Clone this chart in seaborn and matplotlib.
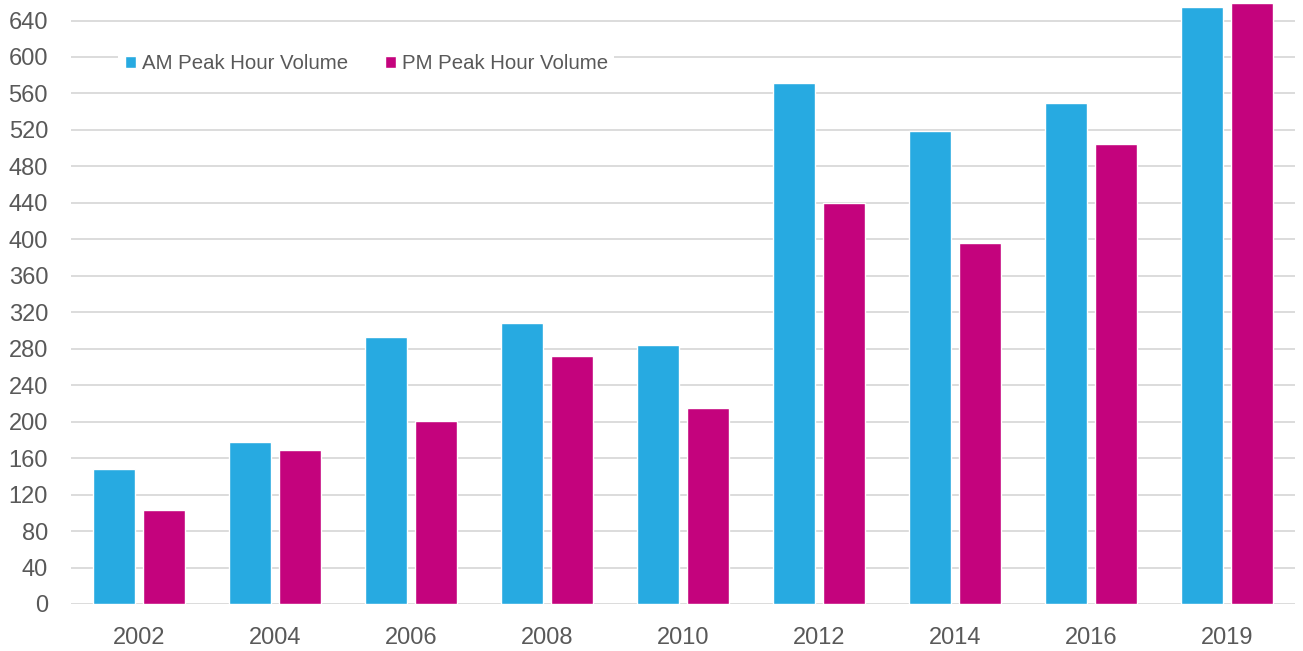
import matplotlib
matplotlib.use("Agg")
import matplotlib.pyplot as plt
import seaborn as sns
import pandas as pd

years = ["2002", "2004", "2006", "2008", "2010", "2012", "2014", "2016", "2019"]
am_volume = [148, 178, 293, 308, 284, 572, 519, 549, 655]
pm_volume = [103, 169, 201, 272, 215, 440, 396, 505, 659]
series_names = ["AM Peak Hour Volume", "PM Peak Hour Volume"]
y_ticks = list(range(0, 641, 40))

df = pd.DataFrame({
    "year": years * 2,
    "volume": am_volume + pm_volume,
    "series": [series_names[0]] * len(years) + [series_names[1]] * len(years),
})

sns.set_theme(style="white")
plt.rcParams["font.family"] = ["Liberation Sans", "DejaVu Sans"]

fig = plt.figure(figsize=(13.03, 6.51), dpi=100)
ax = fig.add_axes([71 / 1303, 1 - 604 / 651, (1295 - 71) / 1303, 604 / 651])

palette = {series_names[0]: "#27AAE1", series_names[1]: "#C4037D"}
sns.barplot(data=df, x="year", y="volume", hue="series", palette=palette,
            width=0.735, gap=0.16, saturation=1, ax=ax, zorder=3)

ax.set_xlim(-0.5, len(years) - 0.5)
ax.set_ylim(0, 662.5)
ax.set_yticks(y_ticks)
ax.yaxis.grid(True, color="#d9d9d9", linewidth=1.3, zorder=0)
ax.set_axisbelow(True)
for s in ax.spines.values():
    s.set_visible(False)
ax.set_xlabel("")
ax.set_ylabel("")
ax.tick_params(axis="y", labelsize=17, labelcolor="#595959", length=0, pad=16.5)
ax.tick_params(axis="x", labelsize=17, labelcolor="#595959", length=0, pad=16.5)

leg = ax.legend(loc="center", bbox_to_anchor=(0.2414, 0.895), ncol=2,
                frameon=True, fontsize=14.7, handlelength=0.55, handleheight=0.55,
                handletextpad=0.3, columnspacing=1.8, borderpad=0.3)
leg.get_frame().set_facecolor("white")
leg.get_frame().set_edgecolor("none")
leg.get_frame().set_alpha(1)
for t in leg.get_texts():
    t.set_color("#595959")

fig.savefig("out.png", dpi=100)
